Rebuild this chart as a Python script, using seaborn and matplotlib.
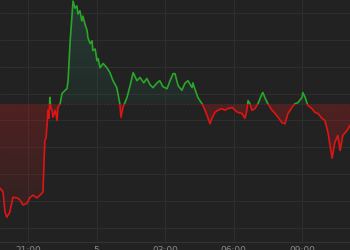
import numpy as np
import pandas as pd
import matplotlib
matplotlib.use("Agg")
import matplotlib.pyplot as plt
import seaborn as sns
from matplotlib.patches import Rectangle, PathPatch

# ---- data ----
minutes = [0, 8, 13, 18, 26, 34, 45, 53, 60, 71, 79, 87, 97, 105, 113, 116, 118, 121,
           124, 126, 129, 131, 134, 137, 139, 145, 150, 152, 158, 163, 171, 176, 179,
           184, 189, 192, 197, 202, 205, 210, 215, 218, 223, 229, 231, 237, 242, 244,
           250, 255, 258, 263, 271, 281, 289, 297, 307, 315, 318, 323, 334, 342, 350,
           360, 368, 378, 386, 394, 402, 413, 420, 428, 439, 447, 455, 460, 468, 478,
           486, 494, 505, 507, 512, 520, 531, 539, 547, 552, 557, 565, 573, 583, 591,
           599, 610, 618, 625, 636, 644, 649, 652, 657, 662, 670, 678, 689, 691, 696,
           704, 715, 723, 731, 741, 749, 757, 767, 775, 783, 794, 796, 802, 809, 820,
           828, 836, 846, 854, 862, 873, 880, 888, 894, 901, 912, 920]
prices = [98.74, 98.67, 98.30, 98.20, 98.30, 98.57, 98.56, 98.52, 98.43, 98.46, 98.57,
          98.61, 98.56, 98.61, 98.67, 99.30, 99.63, 99.67, 99.94, 100.19, 100.04, 100.43,
          100.22, 100.19, 100.06, 100.19, 100.00, 100.24, 100.31, 100.50, 100.56, 100.59,
          100.74, 101.43, 101.91, 102.22, 102.09, 102.13, 101.98, 102.04, 101.85, 101.94,
          101.80, 101.67, 101.54, 101.43, 101.48, 101.30, 101.33, 101.11, 101.15, 100.98,
          101.06, 100.98, 100.89, 100.74, 100.61, 100.31, 100.06, 100.24, 100.43, 100.65,
          100.89, 100.74, 100.80, 100.70, 100.78, 100.67, 100.61, 100.70, 100.74, 100.63,
          100.59, 100.74, 100.87, 100.87, 100.65, 100.56, 100.69, 100.74, 100.61, 100.70,
          100.59, 100.43, 100.31, 100.19, 100.04, 99.94, 100.04, 100.15, 100.19, 100.22,
          100.19, 100.22, 100.24, 100.19, 100.15, 100.13, 100.04, 100.19, 100.37, 100.31,
          100.19, 100.22, 100.31, 100.50, 100.52, 100.43, 100.31, 100.19, 100.13, 100.06,
          99.96, 99.94, 100.13, 100.24, 100.31, 100.33, 100.43, 100.52, 100.43, 100.28,
          100.22, 100.15, 100.13, 100.04, 100.00, 99.78, 99.30, 99.59, 99.72, 99.44,
          99.72, 99.81, 99.91]
prev_close = 100.30
tick_hours = [21, 24, 27, 30, 33]
tick_labels = ["21:00", "5", "03:00", "06:00", "09:00"]
grid_prices = [98.0, 98.5, 99.0, 99.5, 100.0, 100.5, 101.0, 101.5, 102.0]

start_hour = 19 + 46 / 60
df = pd.DataFrame({"hour": start_hour + np.array(minutes) / 60.0, "price": prices})

BG = "#222222"
GREEN = "#2aa52a"
RED = "#dd1515"

sns.set_style("dark", {"axes.facecolor": BG, "figure.facecolor": BG})
plt.rcParams["font.family"] = ["DejaVu Sans"]

fig = plt.figure(figsize=(3.5, 2.5), dpi=100, facecolor=BG)
ax = fig.add_axes([0, 8 / 250, 1, 242 / 250])
ax.set_facecolor(BG)

x0, x1 = df["hour"].iloc[0], df["hour"].iloc[-1]
ymin, ymax = 97.74, 102.24

# gradient fills clipped to the area between the line and the previous close
fb = ax.fill_between(df["hour"], df["price"], prev_close, color="none", lw=0)
clip = PathPatch(fb.get_paths()[0], transform=ax.transData, facecolor="none", edgecolor="none")
ax.add_patch(clip)

n = 256
g = np.zeros((n, 1, 4))
g[..., 0], g[..., 1], g[..., 2] = 40 / 255, 120 / 255, 90 / 255
g[:, 0, 3] = np.linspace(0.10, 0.30, n)
im_g = ax.imshow(g, extent=[x0, x1, prev_close, ymax], aspect="auto", origin="lower", zorder=1)
im_g.set_clip_path(clip)

r = np.zeros((n, 1, 4))
r[..., 0], r[..., 1], r[..., 2] = 190 / 255, 30 / 255, 30 / 255
r[:, 0, 3] = np.linspace(0.04, 0.30, n)
im_r = ax.imshow(r, extent=[x0, x1, ymin, prev_close], aspect="auto", origin="lower", zorder=1)
im_r.set_clip_path(clip)

# line, coloured by side of previous close
sns.lineplot(data=df, x="hour", y="price", ax=ax, color=GREEN, lw=1.2, sort=False, zorder=3)
lg = ax.lines[-1]
lg.set_clip_path(Rectangle((x0 - 1, prev_close), x1 - x0 + 2, 10, transform=ax.transData))
sns.lineplot(data=df, x="hour", y="price", ax=ax, color=RED, lw=1.2, sort=False, zorder=3)
lr = ax.lines[-1]
lr.set_clip_path(Rectangle((x0 - 1, prev_close - 10), x1 - x0 + 2, 10, transform=ax.transData))

ax.axhline(prev_close, color="#4a2e2e", lw=0.6, ls=(0, (2, 2)), zorder=2)

ax.set_xlim(x0, x1)
ax.set_ylim(ymin, ymax)
ax.set_xticks(tick_hours)
ax.set_xticklabels(tick_labels)
ax.set_yticks(grid_prices)
ax.set_xlabel("")
ax.set_ylabel("")
ax.grid(True, color="#2e2e2e", lw=0.8)
ax.set_axisbelow(True)
ax.tick_params(axis="x", length=0, pad=3, labelsize=6.5, labelcolor="#8a8a8a")
ax.tick_params(axis="y", left=False, labelleft=False)
for s in ["top", "left", "right"]:
    ax.spines[s].set_visible(False)
ax.spines["bottom"].set_color("#333333")
ax.spines["bottom"].set_linewidth(0.8)

fig.savefig("out.png", dpi=100, facecolor=BG)
